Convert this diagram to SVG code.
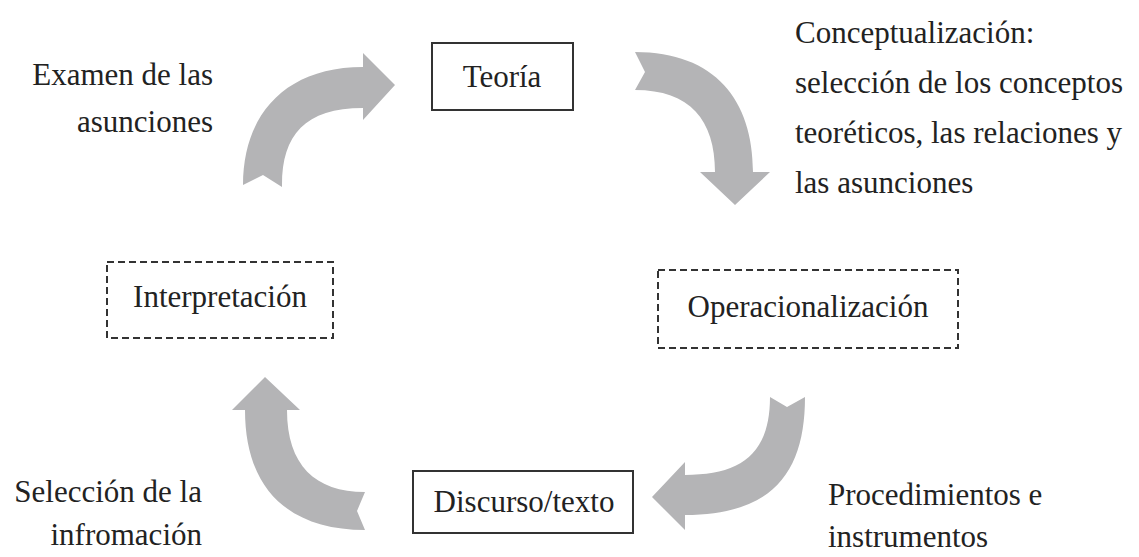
<svg xmlns="http://www.w3.org/2000/svg" width="1139" height="557" viewBox="0 0 1139 557">
  <style>
    .lbl { font-family: "Liberation Serif", "Times New Roman", serif; font-size: 31px; fill: #222; }
    .mid { text-anchor: middle; }
    .end { text-anchor: end; }
    .solid { fill: #fff; stroke: #333; stroke-width: 2; }
    .dashed { fill: #fff; stroke: #333; stroke-width: 2; stroke-dasharray: 7 4; }
    .arrow { fill: #b4b4b6; stroke: none; }
  </style>
  <rect width="1139" height="557" fill="#fff"/>

  <!-- curved block arrows of the cycle -->
  <g id="connectors">
    <!-- Interpretación to Teoría -->
    <path class="arrow" d="M243,185 C243,115 285,67 363,67 L363,53 L395,85 L363,120 L363,108 C305,108 282,135 282,185 L282,187 L263,175 Z"/>
    <!-- Teoría to Operacionalización -->
    <path class="arrow" d="M635,52 C715,52 753,100 753,172 L770,172 L735,205 L700,172 L715,172 C715,120 690,90 635,90 L645,72 Z"/>
    <!-- Operacionalización to Discurso/texto -->
    <path class="arrow" d="M805,397 C805,470 775,515 685,515 L685,530 L652,497 L685,462 L685,475 C740,475 770,455 770,397 L787,407 Z"/>
    <!-- Discurso/texto to Interpretación -->
    <path class="arrow" d="M365,530 C290,530 245,490 245,410 L232,410 L265,377 L300,410 L287,410 C287,465 315,492 365,492 L357,511 Z"/>
  </g>

  <g id="node-teoria">
    <rect class="solid" x="432" y="43" width="141" height="67"/>
    <text class="lbl mid" x="502" y="87">Teoría</text>
  </g>

  <g id="node-operacionalizacion">
    <rect class="dashed" x="658" y="270" width="300" height="78"/>
    <text class="lbl mid" x="808" y="317">Operacionalización</text>
  </g>

  <g id="node-discurso">
    <rect class="solid" x="413" y="471" width="220" height="62"/>
    <text class="lbl mid" x="524" y="512">Discurso/texto</text>
  </g>

  <g id="node-interpretacion">
    <rect class="dashed" x="107" y="262" width="226" height="76"/>
    <text class="lbl mid" x="220" y="307">Interpretación</text>
  </g>

  <g id="label-examen">
    <text class="lbl end" x="213" y="85">Examen de las</text>
    <text class="lbl end" x="213" y="132">asunciones</text>
  </g>

  <g id="label-conceptualizacion">
    <text class="lbl" x="795" y="43">Conceptualización:</text>
    <text class="lbl" x="795" y="93">selección de los conceptos</text>
    <text class="lbl" x="795" y="143">teoréticos, las relaciones y</text>
    <text class="lbl" x="795" y="193">las asunciones</text>
  </g>

  <g id="label-procedimientos">
    <text class="lbl" x="828" y="505">Procedimientos e</text>
    <text class="lbl" x="828" y="547">instrumentos</text>
  </g>

  <g id="label-seleccion">
    <text class="lbl end" x="202" y="502">Selección de la</text>
    <text class="lbl end" x="202" y="545">infromación</text>
  </g>
</svg>
